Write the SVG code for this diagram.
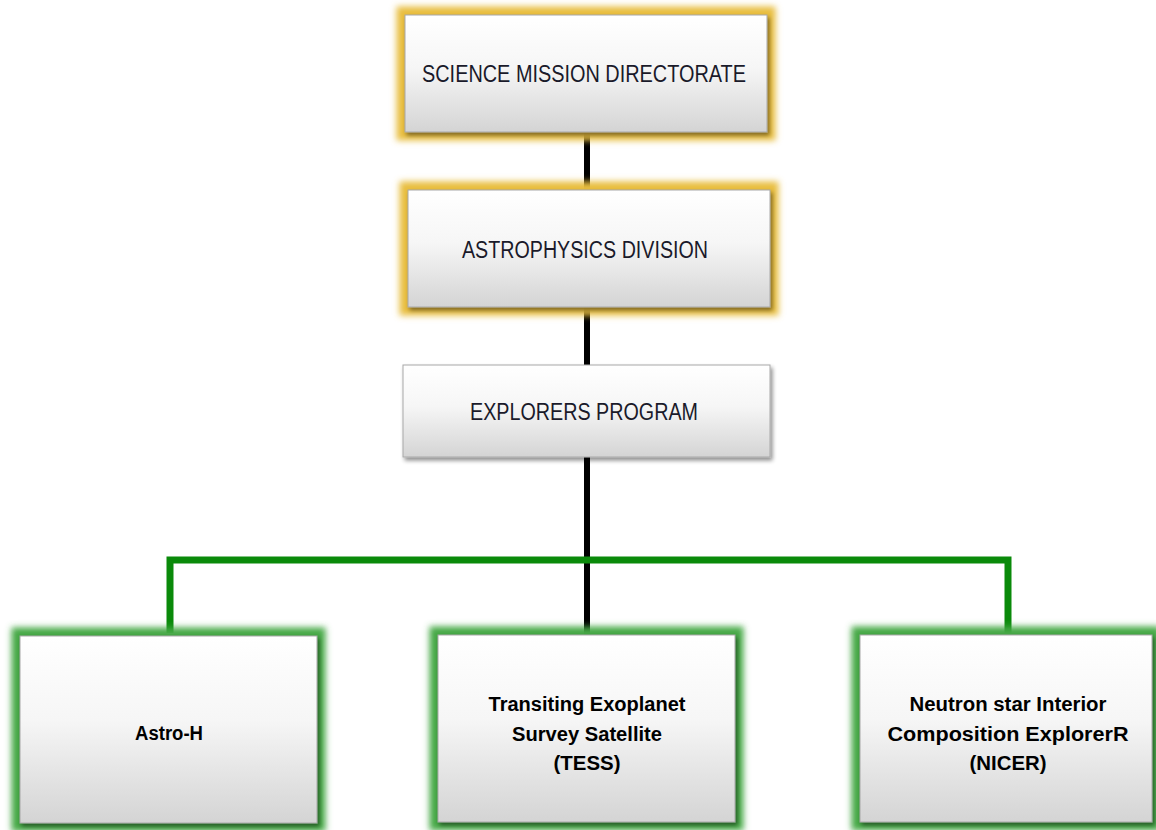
<svg xmlns="http://www.w3.org/2000/svg" width="1156" height="830" viewBox="0 0 1156 830">
<defs>
<linearGradient id="boxfill" x1="0" y1="0" x2="0" y2="1">
<stop offset="0" stop-color="#ffffff"/>
<stop offset="0.45" stop-color="#f6f6f6"/>
<stop offset="1" stop-color="#d4d4d4"/>
</linearGradient>
<filter id="glow" x="-10%" y="-15%" width="120%" height="130%">
<feGaussianBlur stdDeviation="3.2"/>
</filter>
<filter id="shadow" x="-10%" y="-10%" width="120%" height="130%">
<feGaussianBlur in="SourceAlpha" stdDeviation="2"/>
<feOffset dx="2" dy="3" result="b"/>
<feComponentTransfer><feFuncA type="linear" slope="0.45"/></feComponentTransfer>
<feMerge><feMergeNode/><feMergeNode in="SourceGraphic"/></feMerge>
</filter>
</defs>
<style>
.box{fill:url(#boxfill);stroke:#a8a8a8;stroke-width:1;filter:url(#shadow)}
.yglow{fill:none;stroke:#e8bd3c;stroke-width:15;filter:url(#glow)}
.gglow{fill:none;stroke:#45a845;stroke-width:15;filter:url(#glow)}
.t1{font-family:"Liberation Sans",Arial,sans-serif;font-size:23px;fill:#1a1a2a;text-anchor:middle}
.t2{font-family:"Liberation Sans",Arial,sans-serif;font-size:20px;font-weight:bold;fill:#000;text-anchor:middle}
.blk{stroke:#000;stroke-width:6;fill:none}
.grn{stroke:#0a8a0a;stroke-width:7;fill:none;stroke-linejoin:miter}
</style>
<g id="connectors">
<line class="blk" x1="587" y1="130" x2="587" y2="192"/>
<line class="blk" x1="587" y1="305" x2="587" y2="367"/>
<line class="blk" x1="587" y1="455" x2="587" y2="637"/>
<polyline class="grn" points="170,633 170,560 1008,560 1008,633"/>
</g>
<g id="node-smd">
<rect class="yglow" x="404" y="14" width="364" height="119"/>
<rect class="box" x="405" y="15" width="362" height="117"/>
<text class="t1" x="584" y="82" textLength="324" lengthAdjust="spacingAndGlyphs">SCIENCE MISSION DIRECTORATE</text>
</g>
<g id="node-astro-div">
<rect class="yglow" x="407" y="189" width="364" height="119"/>
<rect class="box" x="408" y="190" width="362" height="117"/>
<text class="t1" x="585" y="258" textLength="246" lengthAdjust="spacingAndGlyphs">ASTROPHYSICS DIVISION</text>
</g>
<g id="node-explorers">
<rect class="box" x="403" y="365" width="367" height="92"/>
<text class="t1" x="584" y="420" textLength="228" lengthAdjust="spacingAndGlyphs">EXPLORERS PROGRAM</text>
</g>
<g id="node-astro-h">
<rect class="gglow" x="19" y="635" width="299" height="189"/>
<rect class="box" x="20" y="636" width="297" height="187"/>
<text class="t2" x="169" y="740" textLength="68" lengthAdjust="spacingAndGlyphs">Astro-H</text>
</g>
<g id="node-tess">
<rect class="gglow" x="437" y="634" width="299" height="189"/>
<rect class="box" x="438" y="635" width="297" height="187"/>
<text class="t2" x="587" y="711" textLength="197" lengthAdjust="spacingAndGlyphs">Transiting Exoplanet</text>
<text class="t2" x="587" y="741" textLength="150" lengthAdjust="spacingAndGlyphs">Survey Satellite</text>
<text class="t2" x="587" y="770" textLength="67" lengthAdjust="spacingAndGlyphs">(TESS)</text>
</g>
<g id="node-nicer">
<rect class="gglow" x="859" y="634" width="294" height="189"/>
<rect class="box" x="860" y="635" width="292" height="187"/>
<text class="t2" x="1008" y="711" textLength="197" lengthAdjust="spacingAndGlyphs">Neutron star Interior</text>
<text class="t2" x="1008" y="741" textLength="241" lengthAdjust="spacingAndGlyphs">Composition ExplorerR</text>
<text class="t2" x="1008" y="770" textLength="77" lengthAdjust="spacingAndGlyphs">(NICER)</text>
</g>
</svg>
